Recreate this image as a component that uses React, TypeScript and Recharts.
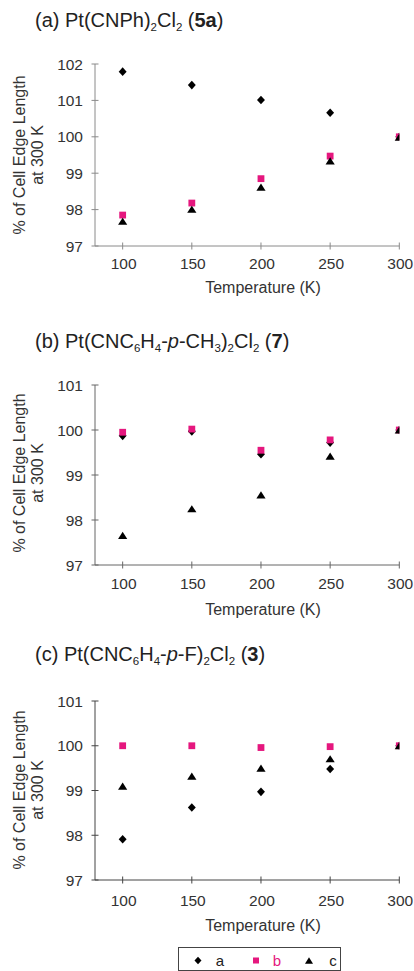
import React from 'react';
import { ScatterChart, Scatter, XAxis, YAxis, Legend } from 'recharts';

const FONT = "'Liberation Sans', Arial, Helvetica, sans-serif";
const PINK = '#e5177e';

// Temperatures (K) – categories on the x axis
const temperatures = [100, 150, 200, 250, 300];
const xTicks = [100, 150, 200, 250, 300];
const seriesNames = ['a', 'b', 'c'];
const seriesColors = ['#000000', PINK, '#000000'];

// (a) Pt(CNPh)2Cl2 (5a)
const p5a_a = [101.79, 101.42, 101.01, 100.66, 100.0];
const p5a_b = [97.85, 98.18, 98.85, 99.47, 100.0];
const p5a_c = [97.68, 98.01, 98.62, 99.34, 99.99];
const yTicks5a = [97, 98, 99, 100, 101, 102];

// (b) Pt(CNC6H4-p-CH3)2Cl2 (7)
const p7_a = [99.87, 99.97, 99.46, 99.72, 100.0];
const p7_b = [99.95, 100.02, 99.55, 99.78, 100.0];
const p7_c = [97.66, 98.25, 98.56, 99.42, 100.0];
const yTicks7 = [97, 98, 99, 100, 101];

// (c) Pt(CNC6H4-p-F)2Cl2 (3)
const p3_a = [97.91, 98.62, 98.97, 99.48, 100.0];
const p3_b = [100.0, 100.0, 99.96, 99.98, 100.0];
const p3_c = [99.1, 99.32, 99.5, 99.71, 100.0];
const yTicks3 = [97, 98, 99, 100, 101];

// Panel titles as segments (s = subscript, i = italic, b = bold)
type Seg = { t: string; s?: boolean; i?: boolean; b?: boolean };
const titleA: Seg[] = [{ t: '(a) Pt(CNPh)' }, { t: '2', s: true }, { t: 'Cl' }, { t: '2', s: true }, { t: ' (' }, { t: '5a', b: true }, { t: ')' }];
const titleB: Seg[] = [
  { t: '(b) Pt(CNC' }, { t: '6', s: true }, { t: 'H' }, { t: '4', s: true }, { t: '-' }, { t: 'p', i: true }, { t: '-CH' },
  { t: '3', s: true }, { t: ')' }, { t: '2', s: true }, { t: 'Cl' }, { t: '2', s: true }, { t: ' (' }, { t: '7', b: true }, { t: ')' },
];
const titleC: Seg[] = [
  { t: '(c) Pt(CNC' }, { t: '6', s: true }, { t: 'H' }, { t: '4', s: true }, { t: '-' }, { t: 'p', i: true }, { t: '-F)' },
  { t: '2', s: true }, { t: 'Cl' }, { t: '2', s: true }, { t: ' (' }, { t: '3', b: true }, { t: ')' },
];

const toPoints = (vals: number[]) => temperatures.map((t, i) => ({ t, v: vals[i] }));

const Diamond = ({ cx, cy, r = 4.3, fill = '#000' }: any) => (
  <path d={`M${cx},${cy - r}L${cx + r * 0.92},${cy}L${cx},${cy + r}L${cx - r * 0.92},${cy}Z`} fill={fill} />
);
const Square = ({ cx, cy, s = 3.4, fill = PINK }: any) => (
  <rect x={cx - s} y={cy - s} width={2 * s} height={2 * s} fill={fill} />
);
const Triangle = ({ cx, cy, w = 4.6, h = 3.6, fill = '#000' }: any) => (
  <path d={`M${cx},${cy - h}L${cx + w},${cy + h}L${cx - w},${cy + h}Z`} fill={fill} />
);

const shapeFor = (name: string, props: any, small = false) => {
  if (name === 'a') return <Diamond cx={props.cx} cy={props.cy} fill={props.fill} r={small ? 3.8 : 4.3} />;
  if (name === 'b') return <Square cx={props.cx} cy={props.cy} fill={props.fill} s={small ? 3 : 3.4} />;
  return <Triangle cx={props.cx} cy={props.cy} fill={props.fill} w={small ? 4 : 4.6} h={small ? 3.2 : 3.6} />;
};

const LegendBox = ({ payload }: any) => {
  const items = (payload && payload.length ? payload : seriesNames.map((n, i) => ({ value: n, color: seriesColors[i] })));
  const iconX = [20, 78, 131];
  const textX = [42, 99, 155];
  return (
    <svg width={163} height={24} style={{ display: 'block' }}>
      <rect x={0.5} y={0.5} width={162} height={23} fill="#fff" stroke="#444" strokeWidth={1} />
      {items.map((it: any, i: number) => {
        const name = it.value;
        const idx = seriesNames.indexOf(name);
        const col = seriesColors[idx >= 0 ? idx : i];
        return (
          <g key={name}>
            {shapeFor(name, { cx: iconX[i], cy: 13.5, fill: col }, true)}
            <text x={textX[i]} y={13.5} textAnchor="middle" dominantBaseline="central" fontSize={15} fontFamily={FONT} fill={name === 'b' ? PINK : '#222'}>
              {name}
            </text>
          </g>
        );
      })}
    </svg>
  );
};

type PanelProps = {
  top: number;
  plotH: number;
  xAxisH: number;
  a: number[];
  b: number[];
  c: number[];
  yDomain: [number, number];
  yTicks: number[];
  axisColor: string;
  xLabelOffset: number;
  legend?: boolean;
};

function Panel({ top, plotH, xAxisH, a, b, c, yDomain, yTicks, axisColor, xLabelOffset, legend }: PanelProps) {
  const marginTop = 10;
  const height = marginTop + plotH + xAxisH;
  const XTick = (props: any) => {
    const { x, y, payload } = props;
    return (
      <g>
        <line x1={x} x2={x} y1={y - 3.5} y2={y + 3.5} stroke={axisColor} strokeWidth={1} />
        <text x={x + 1} y={y + xLabelOffset} textAnchor="middle" dominantBaseline="central" fontSize={15.5} fontFamily={FONT} fill="#333">
          {payload.value}
        </text>
      </g>
    );
  };
  const YTick = (props: any) => {
    const { x, y, payload } = props;
    return (
      <g>
        <line x1={x - 3.5} x2={x + 3.5} y1={y} y2={y} stroke={axisColor} strokeWidth={1} />
        <text x={x - 12} y={y} textAnchor="end" dominantBaseline="central" fontSize={15.5} fontFamily={FONT} fill="#333">
          {payload.value}
        </text>
      </g>
    );
  };
  return (
    <div style={{ position: 'absolute', left: 0, top }}>
      <ScatterChart width={414} height={height} margin={{ top: marginTop, right: 14.7, bottom: 0, left: 0 }}>
        <XAxis
          type="number"
          dataKey="t"
          domain={[80, 300]}
          ticks={xTicks}
          interval={0}
          allowDataOverflow
          height={xAxisH}
          tickSize={0}
          tickMargin={0}
          tickLine={false}
          tick={XTick}
          axisLine={{ stroke: axisColor, strokeWidth: 1 }}
        />
        <YAxis
          type="number"
          dataKey="v"
          domain={yDomain}
          ticks={yTicks}
          interval={0}
          allowDataOverflow
          width={95}
          tickSize={0}
          tickMargin={0}
          tickLine={false}
          tick={YTick}
          axisLine={{ stroke: axisColor, strokeWidth: 1 }}
        />
        <Scatter name="a" data={toPoints(a)} fill="#000000" isAnimationActive={false} shape={(p: any) => shapeFor('a', p)} />
        <Scatter name="b" data={toPoints(b)} fill={PINK} isAnimationActive={false} shape={(p: any) => shapeFor('b', p)} />
        <Scatter name="c" data={toPoints(c)} fill="#000000" isAnimationActive={false} shape={(p: any) => shapeFor('c', p)} />
        {legend && (
          <Legend
            layout="horizontal"
            verticalAlign="middle"
            align="center"
            wrapperStyle={{ left: 178, top: 947 - top, width: 163, height: 24 }}
            content={(props: any) => <LegendBox payload={props.payload} />}
          />
        )}
      </ScatterChart>
    </div>
  );
}

const Title = ({ segs, y }: { segs: Seg[]; y: number }) => {
  let prevSub = false;
  return (
    <text x={35} y={y} fontSize={20} fontFamily={FONT} fill="#222">
      {segs.map((sg, k) => {
        let dy = 0;
        if (sg.s && !prevSub) dy = 4;
        else if (!sg.s && prevSub) dy = -4;
        prevSub = !!sg.s;
        return (
          <tspan
            key={k}
            dy={dy || undefined}
            fontSize={sg.s ? 11.5 : undefined}
            fontStyle={sg.i ? 'italic' : undefined}
            fontWeight={sg.b ? 'bold' : undefined}
          >
            {sg.t}
          </tspan>
        );
      })}
    </text>
  );
};

const YLabel = ({ cy }: { cy: number }) => (
  <text transform={`translate(0,${cy}) rotate(-90)`} textAnchor="middle" fontSize={16} fontFamily={FONT} fill="#333">
    <tspan x={0} y={25}>% of Cell Edge Length</tspan>
    <tspan x={0} y={43}>at 300 K</tspan>
  </text>
);

const XTitle = ({ cy }: { cy: number }) => (
  <text x={263} y={cy} textAnchor="middle" dominantBaseline="central" fontSize={16} fontFamily={FONT} fill="#333">
    Temperature (K)
  </text>
);

export default function App() {
  return (
    <div style={{ position: 'absolute', left: 0, top: 0, width: 414, height: 971, overflow: 'hidden', background: '#fff' }}>
      <Panel top={54} plotH={182} xAxisH={40} a={p5a_a} b={p5a_b} c={p5a_c} yDomain={[97, 102]} yTicks={yTicks5a} axisColor="#8a8a8a" xLabelOffset={17.5} />
      <Panel top={375} plotH={180} xAxisH={40} a={p7_a} b={p7_b} c={p7_c} yDomain={[97, 101]} yTicks={yTicks7} axisColor="#666" xLabelOffset={18} />
      <Panel top={690.5} plotH={179} xAxisH={91.5} a={p3_a} b={p3_b} c={p3_c} yDomain={[97, 101]} yTicks={yTicks3} axisColor="#444" xLabelOffset={20.5} legend />
      <svg width={414} height={971} style={{ position: 'absolute', left: 0, top: 0, pointerEvents: 'none' }}>
        <Title segs={titleA} y={27} />
        <Title segs={titleB} y={348} />
        <Title segs={titleC} y={661} />
        <YLabel cy={155} />
        <YLabel cy={473} />
        <YLabel cy={790} />
        <XTitle cy={287} />
        <XTitle cy={609} />
        <XTitle cy={925.5} />
      </svg>
    </div>
  );
}
